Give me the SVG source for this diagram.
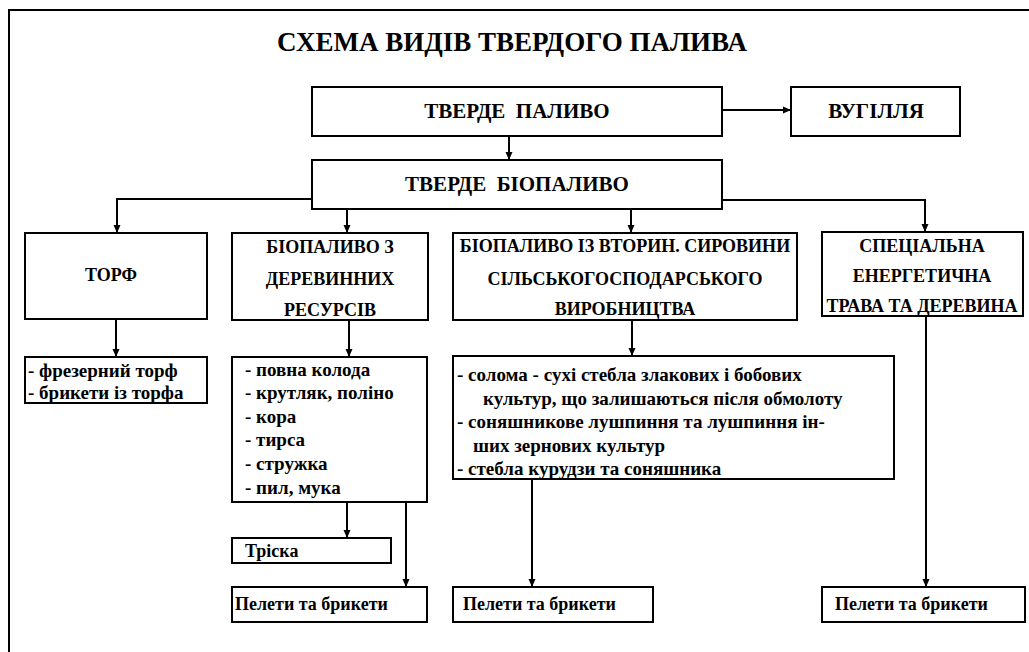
<svg xmlns="http://www.w3.org/2000/svg" width="1029" height="652" viewBox="0 0 1029 652">
<style>
.box{fill:#fff;stroke:#000;stroke-width:2}
.ln{fill:none;stroke:#000;stroke-width:2}
text{font-family:'Liberation Serif','Times New Roman',serif;font-weight:bold;fill:#000}
.t{font-size:21px;text-anchor:middle}
.c{font-size:18px;text-anchor:middle}
.l{font-size:19px}
.p{font-size:18px}
.title{font-size:27px;text-anchor:middle}
</style>
<defs>
<marker id="ah" markerUnits="userSpaceOnUse" markerWidth="8" markerHeight="8" refX="8" refY="4" orient="auto">
<path d="M0,0.5 L8,4 L0,7.5 z" fill="#000"/>
</marker>
</defs>
<rect x="0" y="0" width="1029" height="652" fill="#fff"/>
<rect x="9" y="10" width="1100" height="700" fill="none" stroke="#000" stroke-width="2"/>
<text class="title" x="512" y="51">СХЕМА ВИДІВ ТВЕРДОГО ПАЛИВА</text>

<g id="connectors">
<line class="ln" x1="722" y1="110" x2="791" y2="110" marker-end="url(#ah)"/>
<line class="ln" x1="509" y1="136" x2="509" y2="160" marker-end="url(#ah)"/>
<polyline class="ln" points="312,199 117,199 117,233" marker-end="url(#ah)"/>
<line class="ln" x1="347" y1="209" x2="347" y2="233" marker-end="url(#ah)"/>
<line class="ln" x1="631" y1="209" x2="631" y2="233" marker-end="url(#ah)"/>
<polyline class="ln" points="722,200 925,200 925,232" marker-end="url(#ah)"/>
<line class="ln" x1="116" y1="319" x2="116" y2="357" marker-end="url(#ah)"/>
<line class="ln" x1="349" y1="320" x2="349" y2="357" marker-end="url(#ah)"/>
<line class="ln" x1="632" y1="320" x2="632" y2="356" marker-end="url(#ah)"/>
<line class="ln" x1="347" y1="502" x2="347" y2="538" marker-end="url(#ah)"/>
<line class="ln" x1="406" y1="502" x2="406" y2="587" marker-end="url(#ah)"/>
<line class="ln" x1="532" y1="479" x2="532" y2="587" marker-end="url(#ah)"/>
<line class="ln" x1="926" y1="316" x2="926" y2="587" marker-end="url(#ah)"/>
</g>

<g id="tverde-palyvo">
<rect class="box" x="312" y="87" width="410" height="49"/>
<text class="t" x="517" y="118">ТВЕРДЕ&#160; ПАЛИВО</text>
</g>
<g id="vugillya">
<rect class="box" x="791" y="87" width="169" height="49"/>
<text class="t" x="876" y="118">ВУГІЛЛЯ</text>
</g>
<g id="tverde-biopalyvo">
<rect class="box" x="312" y="160" width="410" height="49"/>
<text class="t" x="517" y="191">ТВЕРДЕ&#160; БІОПАЛИВО</text>
</g>
<g id="torf">
<rect class="box" x="25" y="233" width="182" height="86"/>
<text class="c" x="111" y="281">ТОРФ</text>
</g>
<g id="wood">
<rect class="box" x="232" y="233" width="196" height="87"/>
<text class="c" x="330" y="253">БІОПАЛИВО З</text>
<text class="c" x="330" y="285">ДЕРЕВИННИХ</text>
<text class="c" x="330" y="316">РЕСУРСІВ</text>
</g>
<g id="vtoryn">
<rect class="box" x="453" y="233" width="344" height="87"/>
<text class="c" x="625" y="252" font-size="17.5">БІОПАЛИВО ІЗ ВТОРИН. СИРОВИНИ</text>
<text class="c" x="625" y="285">СІЛЬСЬКОГОСПОДАРСЬКОГО</text>
<text class="c" x="625" y="315">ВИРОБНИЦТВА</text>
</g>
<g id="spets">
<rect class="box" x="822" y="232" width="201" height="84"/>
<text class="c" x="922" y="252">СПЕЦІАЛЬНА</text>
<text class="c" x="922" y="282">ЕНЕРГЕТИЧНА</text>
<text class="c" x="922" y="312">ТРАВА ТА ДЕРЕВИНА</text>
</g>
<g id="torf-list">
<rect class="box" x="25" y="357" width="182" height="46"/>
<text class="l" x="28" y="377">- фрезерний торф</text>
<text class="l" x="28" y="399">- брикети із торфа</text>
</g>
<g id="wood-list">
<rect class="box" x="232" y="357" width="195" height="145"/>
<text class="l" x="245" y="376">- повна колода</text>
<text class="l" x="245" y="399">- крутляк, поліно</text>
<text class="l" x="245" y="423">- кора</text>
<text class="l" x="245" y="446">- тирса</text>
<text class="l" x="245" y="470">- стружка</text>
<text class="l" x="245" y="494">- пил, мука</text>
</g>
<g id="straw-list">
<rect class="box" x="453" y="356" width="441" height="123"/>
<text class="l" x="457" y="381">- солома - сухі стебла злакових і бобових</text>
<text class="l" x="483" y="405">культур, що залишаються після обмолоту</text>
<text class="l" x="457" y="428">- соняшникове лушпиння та лушпиння ін-</text>
<text class="l" x="473" y="452">ших зернових культур</text>
<text class="l" x="457" y="475">- стебла курудзи та соняшника</text>
</g>
<g id="triska">
<rect class="box" x="232" y="538" width="159" height="25"/>
<text class="p" x="245" y="557">Тріска</text>
</g>
<g id="pellets-1">
<rect class="box" x="232" y="587" width="195" height="35"/>
<text class="p" x="235" y="610">Пелети та брикети</text>
</g>
<g id="pellets-2">
<rect class="box" x="453" y="587" width="200" height="35"/>
<text class="p" x="463" y="610">Пелети та брикети</text>
</g>
<g id="pellets-3">
<rect class="box" x="822" y="587" width="203" height="35"/>
<text class="p" x="835" y="610">Пелети та брикети</text>
</g>
</svg>
